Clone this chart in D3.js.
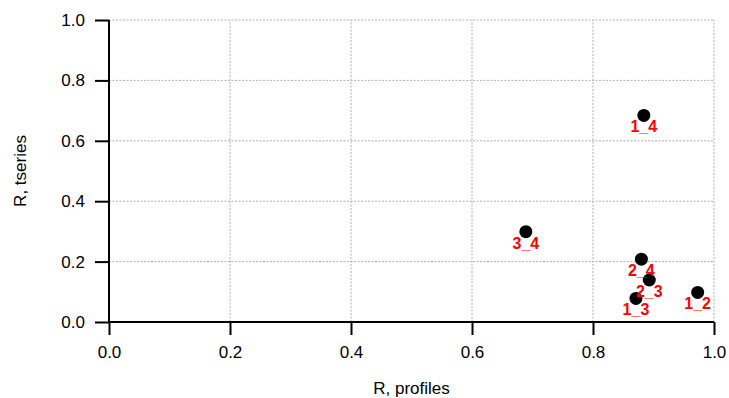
<!DOCTYPE html>
<html>
<head>
<meta charset="utf-8">
<script src="https://cdn.jsdelivr.net/npm/d3@7"></script>
<style>
  html, body { margin: 0; padding: 0; background: #fff; }
  svg { display: block; }
  text { font-family: "Liberation Sans", Arial, sans-serif; }
</style>
</head>
<body>
<svg id="chart" width="729" height="398"></svg>
<script>
const labels = ["1_2", "1_3", "1_4", "2_3", "2_4", "3_4"];
const rProfiles = [0.973, 0.871, 0.884, 0.893, 0.880, 0.689];
const rTseries = [0.098, 0.078, 0.684, 0.139, 0.208, 0.299];
const xTicks = [0.0, 0.2, 0.4, 0.6, 0.8, 1.0];
const yTicks = [0.0, 0.2, 0.4, 0.6, 0.8, 1.0];

const data = labels.map((l, i) => ({ label: l, x: rProfiles[i], y: rTseries[i] }));

const svg = d3.select("#chart");
const margin = { left: 109, right: 15, top: 20, bottom: 76 };
const W = 729, H = 398;

const x = d3.scaleLinear().domain([0, 1]).range([margin.left, W - margin.right]);
const y = d3.scaleLinear().domain([0, 1]).range([H - margin.bottom, margin.top]);

// grid
const grid = svg.append("g");
grid.selectAll("line.vg").data(xTicks.filter(d => d > 0)).join("line")
  .attr("x1", d => x(d)).attr("x2", d => x(d))
  .attr("y1", y(0)).attr("y2", y(1))
  .attr("stroke", "#b0b0b0").attr("stroke-width", 1).attr("stroke-dasharray", "2,1.5");
grid.selectAll("line.hg").data(yTicks.filter(d => d > 0)).join("line")
  .attr("x1", x(0)).attr("x2", x(1))
  .attr("y1", d => y(d)).attr("y2", d => y(d))
  .attr("stroke", "#b0b0b0").attr("stroke-width", 1).attr("stroke-dasharray", "2,1.5");

// axes
const xAxis = d3.axisBottom(x).tickValues(xTicks).tickFormat(d3.format(".1f")).tickSize(13).tickPadding(11);
const yAxis = d3.axisLeft(y).tickValues(yTicks).tickFormat(d3.format(".1f")).tickSize(14).tickPadding(10);

const gx = svg.append("g").attr("transform", `translate(0,${y(0)})`).call(xAxis);
const gy = svg.append("g").attr("transform", `translate(${x(0)},0)`).call(yAxis);
[gx, gy].forEach(g => {
  g.select(".domain").attr("stroke", "#000").attr("stroke-width", 2);
  g.selectAll(".tick line").attr("stroke", "#000").attr("stroke-width", 2);
  g.selectAll(".tick text").attr("fill", "#000").style("font-size", "17px")
    .style("font-family", '"Liberation Sans", Arial, sans-serif');
});
gx.select(".domain").attr("d", `M${x(0)},0H${x(1)}`);
gy.select(".domain").attr("d", `M0,${y(0)}V${y(1)}`);

// axis titles
svg.append("text").attr("x", (x(0) + x(1)) / 2).attr("y", 390)
  .attr("text-anchor", "middle").attr("dominant-baseline", "middle")
  .style("font-size", "17px").text("R, profiles");
svg.append("text")
  .attr("transform", `translate(22,${(y(0) + y(1)) / 2}) rotate(-90)`)
  .attr("text-anchor", "middle").attr("dominant-baseline", "middle")
  .style("font-size", "17px").text("R, tseries");

// points
svg.append("g").selectAll("circle").data(data).join("circle")
  .attr("cx", d => x(d.x)).attr("cy", d => y(d.y)).attr("r", 6.5).attr("fill", "#000");

// labels
svg.append("g").selectAll("text").data(data).join("text")
  .attr("x", d => x(d.x)).attr("y", d => y(d.y) + 17)
  .attr("text-anchor", "middle").attr("fill", "#ff0000")
  .style("font-size", "16px").style("font-weight", "bold")
  .text(d => d.label);
</script>
</body>
</html>
